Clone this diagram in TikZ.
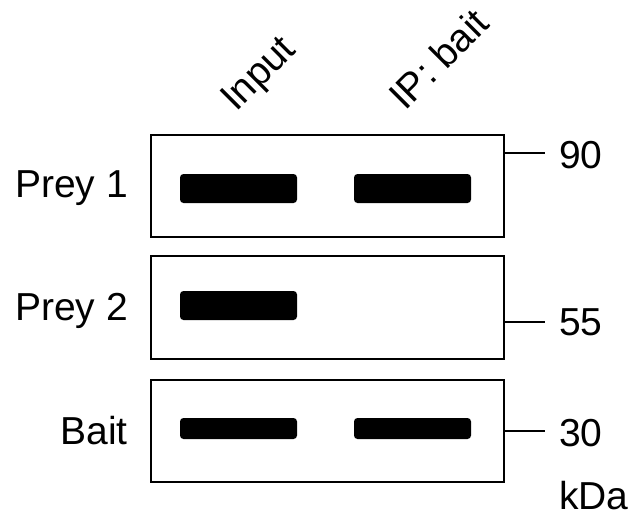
\documentclass[tikz,border=0pt]{standalone}
\usepackage{fontspec}
\setmainfont{Liberation Sans}
\begin{document}
\begin{tikzpicture}[x=1pt,y=-1pt,
  lbl/.style={inner sep=0pt,font=\fontsize{39}{45}\selectfont},
  blot/.style={draw,line width=2pt,minimum width=353pt,inner sep=0pt},
  band/.style={fill=black,rounded corners=3.5pt,minimum width=117pt,inner sep=0pt},
  tick/.style={line width=2.6pt}]
\useasboundingbox (0,0) rectangle (635,517);
% blot panels
\node[blot,minimum height=102pt] (box1) at (327.5,186) {};
\node[blot,minimum height=103pt] (box2) at (327.5,307.5) {};
\node[blot,minimum height=102pt] (box3) at (327.5,431) {};
% bands
\node[band,minimum height=29pt] (b11) at (238.5,188.5) {};
\node[band,minimum height=29pt] (b12) at (412.5,188.5) {};
\node[band,minimum height=29pt] (b21) at (238.5,305.5) {};
\node[band,minimum height=21pt] (b31) at (238.5,428.5) {};
\node[band,minimum height=21pt] (b32) at (412.5,428.5) {};
% lane labels
\node[lbl,anchor=base west,rotate=45] (lin) at (236,113) {Input};
\node[lbl,anchor=base west,rotate=45] (lip) at (405,112) {IP: bait};
% row labels
\node[lbl,anchor=east] (lp1) at (128,188) {Prey 1};
\node[lbl,anchor=east] (lp2) at (128,311) {Prey 2};
\node[lbl,anchor=east] (lb) at (128,431) {Bait};
% marker ticks
\coordinate (t1) at (545,153);
\coordinate (t2) at (545,322);
\coordinate (t3) at (545,431);
\draw[tick] (box1.east |- t1) -- (t1);
\draw[tick] (box2.east |- t2) -- (t2);
\draw[tick] (box3.east |- t3) -- (t3);
\node[lbl,anchor=west] (m1) at (559,155) {90};
\node[lbl,anchor=west] (m2) at (559,322) {55};
\node[lbl,anchor=west] (m3) at (559,433) {30};
\node[lbl,anchor=west] (kda) at (559,496) {kDa};
\end{tikzpicture}
\end{document}
